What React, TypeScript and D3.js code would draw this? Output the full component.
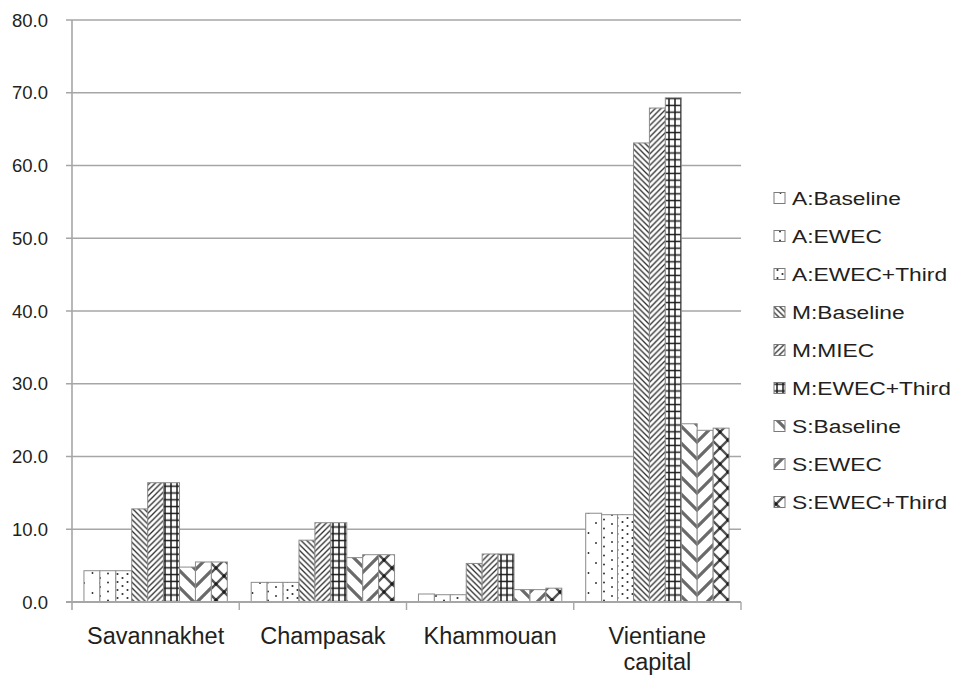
import React from "react";
import * as d3 from "d3";

const categories = ["Savannakhet", "Champasak", "Khammouan", "Vientiane capital"];
const seriesNames = [
  "A:Baseline",
  "A:EWEC",
  "A:EWEC+Third",
  "M:Baseline",
  "M:MIEC",
  "M:EWEC+Third",
  "S:Baseline",
  "S:EWEC",
  "S:EWEC+Third",
];

// values per series, in category order
const aBaseline = [4.3, 2.7, 1.1, 12.2];
const aEwec = [4.3, 2.7, 1.0, 12.0];
const aEwecThird = [4.3, 2.7, 1.0, 12.0];
const mBaseline = [12.8, 8.5, 5.3, 63.1];
const mMiec = [16.4, 10.9, 6.6, 67.9];
const mEwecThird = [16.4, 10.9, 6.6, 69.3];
const sBaseline = [4.8, 6.1, 1.7, 24.5];
const sEwec = [5.5, 6.5, 1.7, 23.6];
const sEwecThird = [5.5, 6.5, 1.9, 23.9];

const seriesValues = [
  aBaseline,
  aEwec,
  aEwecThird,
  mBaseline,
  mMiec,
  mEwecThird,
  sBaseline,
  sEwec,
  sEwecThird,
];

const yTicks = [0, 10, 20, 30, 40, 50, 60, 70, 80];

const W = 957;
const H = 675;
const plot = { left: 72, right: 741, top: 20, bottom: 602 };

const FONT = "'Liberation Sans', Arial, Helvetica, sans-serif";
const INK = "#231f20";
const GRID = "#a6a6a6";
const OUTLINE = "#8c8c8c";

function patternId(i: number) {
  return `pat-${i}`;
}

function dotPattern(id: string, w: number, h: number, dots: [number, number][], r: number) {
  return (
    <pattern id={id} key={id} patternUnits="userSpaceOnUse" width={w} height={h}>
      <rect width={w} height={h} fill="#fff" />
      {dots.map(([cx, cy], k) => (
        <circle key={k} cx={cx} cy={cy} r={r} fill="#2a2a2a" />
      ))}
    </pattern>
  );
}

// diagonal stripes; dir = 1 for "\" and -1 for "/"
function diagPattern(id: string, s: number, dir: number, sw: number, color: string) {
  const d =
    dir === 1
      ? `M0,0 L${s},${s} M${-s / 2},${s / 2} L${s / 2},${s * 1.5} M${s / 2},${-s / 2} L${s * 1.5},${s / 2}`
      : `M0,${s} L${s},0 M${-s / 2},${s / 2} L${s / 2},${-s / 2} M${s / 2},${s * 1.5} L${s * 1.5},${s / 2}`;
  return (
    <pattern id={id} key={id} patternUnits="userSpaceOnUse" width={s} height={s}>
      <rect width={s} height={s} fill="#fff" />
      <path d={d} stroke={color} strokeWidth={sw} fill="none" />
    </pattern>
  );
}

function gridPattern(id: string, w: number, h: number) {
  return (
    <pattern id={id} key={id} patternUnits="userSpaceOnUse" width={w} height={h}>
      <rect width={w} height={h} fill="#fff" />
      <path d={`M${w / 2},0 V${h} M0,${h / 2} H${w}`} stroke="#1a1a1a" strokeWidth={1.5} fill="none" />
    </pattern>
  );
}

function crossPattern(id: string, s: number) {
  const dots: [number, number][] = [
    [s / 2, s / 2],
    [0, 0],
    [s, 0],
    [0, s],
    [s, s],
  ];
  return (
    <pattern id={id} key={id} patternUnits="userSpaceOnUse" width={s} height={s}>
      <rect width={s} height={s} fill="#fff" />
      <path
        d={`M0,0 L${s},${s} M0,${s} L${s},0`}
        stroke="#555"
        strokeWidth={2.4}
        fill="none"
      />
      {dots.map(([cx, cy], k) => (
        <circle key={k} cx={cx} cy={cy} r={1.7} fill="#1a1a1a" />
      ))}
    </pattern>
  );
}

function wrapLabel(label: string): string[] {
  return label.length > 12 ? label.split(" ") : [label];
}

export default function App() {
  const x = d3.scaleBand<string>().domain(categories).range([plot.left, plot.right]).padding(0);
  const xs = d3
    .scaleBand<string>()
    .domain(seriesNames)
    .range([0, x.bandwidth()])
    .paddingInner(0)
    .paddingOuter(0.75);
  const y = d3.scaleLinear().domain([0, 80]).range([plot.bottom, plot.top]);
  const fmt = d3.format(".1f");

  const patterns = [
    dotPattern(patternId(0), 16, 20, [[4, 3], [12.5, 13]], 0.95),
    dotPattern(patternId(1), 16, 9, [[4, 2], [12, 6.5]], 0.95),
    dotPattern(patternId(2), 10, 8, [[2.5, 2], [7.5, 6]], 1.05),
    diagPattern(patternId(3), 5.7, 1, 1.3, "#2a2a2a"),
    diagPattern(patternId(4), 5.7, -1, 1.3, "#2a2a2a"),
    gridPattern(patternId(5), 6, 6.8),
    diagPattern(patternId(6), 17, 1, 3.2, "#6a6a6a"),
    diagPattern(patternId(7), 17, -1, 3.2, "#6a6a6a"),
    crossPattern(patternId(8), 16),
  ];

  const legendX = 774;
  const legendY0 = 198;
  const legendStep = 38;

  return (
    <svg
      width={W}
      height={H}
      viewBox={`0 0 ${W} ${H}`}
      style={{ position: "absolute", left: 0, top: 0, background: "#fff" }}
    >
      <defs>{patterns}</defs>
      <rect width={W} height={H} fill="#fff" />

      {/* horizontal gridlines and y ticks */}
      {yTicks.map((t) => (
        <g key={t}>
          <line
            x1={plot.left - 6}
            x2={plot.right}
            y1={y(t)}
            y2={y(t)}
            stroke={GRID}
            strokeWidth={1.4}
          />
          <text
            x={48}
            y={y(t)}
            dy="0.36em"
            textAnchor="end"
            fontFamily={FONT}
            fontSize={18.5}
            fill={INK}
          >
            {fmt(t)}
          </text>
        </g>
      ))}

      {/* bars */}
      {categories.map((c, ci) => (
        <g key={c}>
          {seriesNames.map((s, si) => {
            const v = seriesValues[si][ci];
            const x0 = (x(c) as number) + (xs(s) as number);
            return (
              <rect
                key={s}
                x={x0}
                y={y(v)}
                width={xs.bandwidth()}
                height={y(0) - y(v)}
                fill={`url(#${patternId(si)})`}
                stroke={OUTLINE}
                strokeWidth={1}
              />
            );
          })}
        </g>
      ))}

      {/* axes */}
      <line x1={plot.left} x2={plot.left} y1={plot.top} y2={plot.bottom + 8} stroke={GRID} strokeWidth={1.6} />
      <line x1={plot.left - 6} x2={plot.right} y1={plot.bottom} y2={plot.bottom} stroke={GRID} strokeWidth={1.8} />
      {categories.map((c) => (
        <line
          key={`tick-${c}`}
          x1={(x(c) as number) + x.bandwidth()}
          x2={(x(c) as number) + x.bandwidth()}
          y1={plot.bottom}
          y2={plot.bottom + 8}
          stroke={GRID}
          strokeWidth={1.4}
        />
      ))}

      {/* category labels */}
      {categories.map((c) => {
        const lines = wrapLabel(c);
        const cx = (x(c) as number) + x.bandwidth() / 2;
        return (
          <text
            key={`lab-${c}`}
            x={cx}
            y={643.5}
            textAnchor="middle"
            fontFamily={FONT}
            fontSize={23.5}
            fill={INK}
          >
            {lines.map((l, k) => (
              <tspan key={k} x={cx} dy={k === 0 ? 0 : 26.5}>
                {l}
              </tspan>
            ))}
          </text>
        );
      })}

      {/* legend */}
      {seriesNames.map((s, si) => {
        const cy = legendY0 + si * legendStep;
        return (
          <g key={`leg-${s}`}>
            <rect
              x={legendX}
              y={cy - 5.5}
              width={11}
              height={11}
              fill={`url(#${patternId(si)})`}
              stroke="#7a7a7a"
              strokeWidth={1}
            />
            <g transform={`translate(792, ${cy}) scale(1.2, 1)`}>
              <text x={0} y={0} dy="0.36em" fontFamily={FONT} fontSize={19} fill={INK}>
                {s}
              </text>
            </g>
          </g>
        );
      })}
    </svg>
  );
}
